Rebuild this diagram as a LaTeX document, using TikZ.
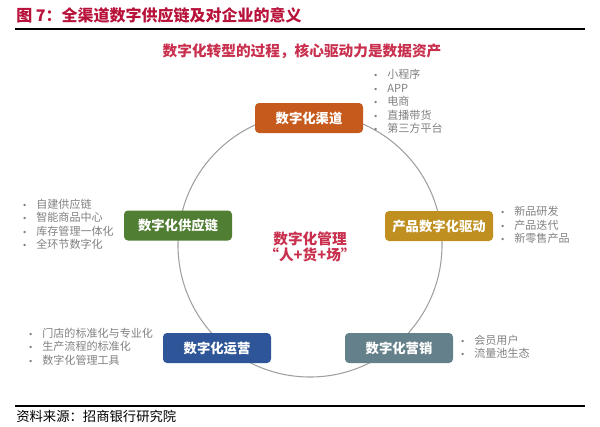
\documentclass[tikz,border=0pt]{standalone}
\usepackage{fontspec}
\setmainfont{Noto Sans CJK SC}
\newfontfamily\djv{DejaVu Sans}
\usetikzlibrary{backgrounds}
\definecolor{titlered}{RGB}{184,18,58}
\definecolor{subred}{RGB}{200,48,78}
\definecolor{cOrange}{RGB}{197,90,28}
\definecolor{cGreen}{RGB}{80,126,50}
\definecolor{cGold}{RGB}{191,144,32}
\definecolor{cBlue}{RGB}{46,85,151}
\definecolor{cSlate}{RGB}{100,128,138}
\definecolor{txtgray}{RGB}{128,128,128}
\definecolor{ringgray}{RGB}{160,160,160}
\tikzset{
  box/.style={rounded corners=3pt, minimum width=81pt, minimum height=22.5pt, inner sep=0pt,
    text=white, font=\bfseries\fontsize{10}{12}\selectfont},
  blist/.style={anchor=west, inner sep=0pt, text=txtgray, font=\fontsize{8.3}{10.1}\selectfont},
  ring/.style={draw=ringgray, line width=0.8pt}
}
\newcommand{\bl}{{\djv\fontsize{6}{6}\selectfont •}}
\begin{document}
\begin{tikzpicture}[x=0.75pt,y=-0.75pt]
\useasboundingbox (0,0) rectangle (600,426);
% title
\node[anchor=west, inner sep=0pt, text=titlered, font=\bfseries\fontsize{12}{14}\selectfont] (title) at (16,15) {图 7：全渠道数字供应链及对企业的意义};
\draw[line width=1.1pt] (15,29) -- (585,29);
\node[inner sep=0pt, text=subred, font=\bfseries\fontsize{11}{13}\selectfont] (sub) at (302,51) {数字化转型的过程，核心驱动力是数据资产};
% boxes
\node[box, fill=cOrange] (chan) at (309,118) {数字化渠道};
\node[box, fill=cGreen] (supp) at (178,225.5) {数字化供应链};
\node[box, fill=cGold] (prod) at (439,226) {产品数字化驱动};
\node[box, fill=cBlue] (oper) at (217,348) {数字化运营};
\node[box, fill=cSlate] (mark) at (399,348) {数字化营销};
% center
\node[align=center, inner sep=0pt, text=subred, font=\bfseries\fontsize{11}{9.8}\selectfont] (core) at (310,247) {数字化管理\\“人+货+场”};
% ring
\begin{scope}[on background layer]
\draw[ring] (310,245) circle[radius=99pt];
\end{scope}
% lists
\node[blist] (l1) at (373,103) {\begin{tabular}{@{}l@{\hspace{7pt}}l@{}}\bl&小程序\\\bl&APP\\\bl&电商\\\bl&直播带货\\\bl&第三方平台\end{tabular}};
\node[blist] (l2) at (22,226) {\begin{tabular}{@{}l@{\hspace{7pt}}l@{}}\bl&自建供应链\\\bl&智能商品中心\\\bl&库存管理一体化\\\bl&全环节数字化\end{tabular}};
\node[blist] (l3) at (500,226.5) {\begin{tabular}{@{}l@{\hspace{7pt}}l@{}}\bl&新品研发\\\bl&产品迭代\\\bl&新零售产品\end{tabular}};
\node[blist] (l4) at (28,348) {\begin{tabular}{@{}l@{\hspace{7pt}}l@{}}\bl&门店的标准化与专业化\\\bl&生产流程的标准化\\\bl&数字化管理工具\end{tabular}};
\node[blist] (l5) at (460,348.5) {\begin{tabular}{@{}l@{\hspace{7pt}}l@{}}\bl&会员用户\\\bl&流量池生态\end{tabular}};
% footer
\draw[line width=1.1pt] (15,406) -- (585,406);
\node[anchor=west, inner sep=0pt, font=\fontsize{10}{12}\selectfont] (src) at (16,416) {资料来源：招商银行研究院};
\end{tikzpicture}
\end{document}
